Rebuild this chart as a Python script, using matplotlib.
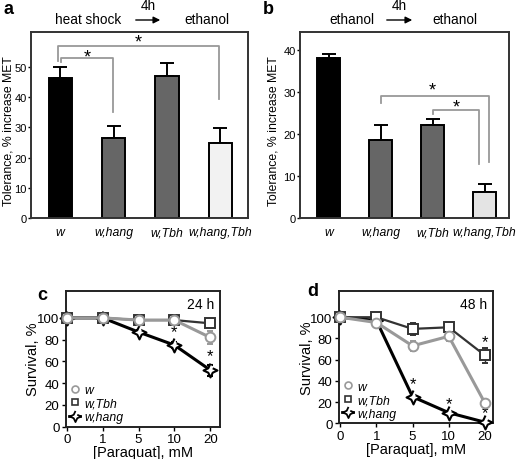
import numpy as np
import matplotlib
matplotlib.use("Agg")
import matplotlib.pyplot as plt
from matplotlib.lines import Line2D

plt.rcParams['font.family'] = ['Liberation Sans', 'DejaVu Sans']

# ---- data, panels a and b (bars) ----
genotypes = ['w', 'w,hang', 'w,Tbh', 'w,hang,Tbh']
tol_a = [46.3, 26.5, 46.9, 24.8]
err_a = [3.7, 4.1, 4.4, 5.0]
tol_b = [38.2, 18.6, 22.1, 6.3]
err_b = [0.9, 3.5, 1.5, 1.9]
bar_colors_a = ['#000000', '#666666', '#666666', '#f2f2f2']
bar_colors_b = ['#000000', '#666666', '#666666', '#e4e4e4']

# ---- data, panels c and d (paraquat survival) ----
paraquat = ['0', '1', '5', '10', '20']
surv_c_w = [100, 100, 98, 98, 82]
surv_c_w_err = [0, 0, 1, 1, 6]
surv_c_tbh = [100, 100, 98, 98, 95]
surv_c_tbh_err = [0, 0, 1, 1, 2]
surv_c_hang = [100, 100, 87, 75, 52]
surv_c_hang_err = [0, 0, 2, 3, 5]

surv_d_w = [100, 95, 73, 82, 19]
surv_d_w_err = [0, 1, 5, 4, 3]
surv_d_tbh = [100, 100, 89, 90.5, 64]
surv_d_tbh_err = [0, 0, 6, 1, 7]
surv_d_hang = [100, 97, 25, 10, 1]
surv_d_hang_err = [0, 0, 2, 2, 1]

W, H = 522, 460
fig = plt.figure(figsize=(W / 100, H / 100), dpi=100)


def px(x0, y0, x1, y1):
    return [x0 / W, 1 - y1 / H, (x1 - x0) / W, (y1 - y0) / H]


def bar_panel(ax, vals, errs, colors, ymax, xlim, label_x):
    x = np.arange(len(vals))
    ax.bar(x, vals, width=0.44, color=colors, edgecolor='black', linewidth=1.4, zorder=2)
    ax.errorbar(x, vals, yerr=[np.zeros(len(errs)), errs], fmt='none',
                ecolor='black', elinewidth=1.4, capsize=5, capthick=1.4, zorder=1)
    ax.set_xlim(*xlim)
    ax.set_ylim(0, ymax)
    ax.set_xticks(x)
    ax.set_xticklabels(genotypes, fontstyle='italic', fontsize=8.8)
    ax.tick_params(axis='x', length=0, pad=6)
    ax.tick_params(axis='y', direction='out', length=2.5, width=1, labelsize=8, pad=0.5)
    for s in ax.spines.values():
        s.set_linewidth(1.4)
        s.set_color('#333333')
    ax.set_ylabel('Tolerance, % increase MET', fontsize=8.8)
    ax.yaxis.set_label_coords(label_x, 0.47)


def bracket(ax, x0, x1, ytop, y0, y1, sx, sy):
    ax.plot([x0, x0, x1, x1], [y0, ytop, ytop, y1], color='#999999', lw=1.3,
            clip_on=False, zorder=3)
    ax.text(sx, sy, '*', ha='center', va='center', fontsize=13)


# panel a
ax_a = fig.add_axes(px(31, 33, 248, 219))
bar_panel(ax_a, tol_a, err_a, bar_colors_a, 61.6, (-0.55, 3.52), -0.077)
ax_a.set_yticks([0, 10, 20, 30, 40, 50])
bracket(ax_a, -0.05, 2.98, 56.8, 52, 39.4, 1.47, 58.3)
bracket(ax_a, 0.02, 0.98, 52.9, 51.6, 35, 0.5, 53.4)

# panel b
ax_b = fig.add_axes(px(300, 33, 509, 219))
bar_panel(ax_b, tol_b, err_b, bar_colors_b, 44.3, (-0.55, 3.47), -0.1)
ax_b.set_yticks([0, 10, 20, 30, 40])
bracket(ax_b, 1.0, 3.08, 29.1, 27.4, 13.4, 2.0, 30.4)
bracket(ax_b, 2.0, 2.9, 25.7, 24.8, 12.9, 2.46, 26.5)

# headers above a and b
def header(xl, xa0, xa1, xr, left, right):
    fig.text(xl / W, 1 - 20 / H, left, ha='center', va='center', fontsize=9.8)
    fig.text(xr / W, 1 - 20 / H, right, ha='center', va='center', fontsize=9.8)
    fig.text((xa0 + xa1) / 2 / W, 1 - 6 / H, '4h', ha='center', va='center', fontsize=9.8)
    fig.add_artist(matplotlib.patches.FancyArrowPatch(
        (xa0 / W, 1 - 21 / H), (xa1 / W, 1 - 21 / H), transform=fig.transFigure,
        arrowstyle='-|>,head_length=4,head_width=2', color='black', lw=1))

header(88, 133, 163, 207, 'heat shock', 'ethanol')
header(352, 384, 415, 455, 'ethanol', 'ethanol')

fig.text(4 / W, 1 - 9 / H, 'a', fontsize=13, fontweight='bold', va='center')
fig.text(263 / W, 1 - 9 / H, 'b', fontsize=13, fontweight='bold', va='center')

# star marker for w,hang
ang = np.linspace(0, 2 * np.pi, 9)[:-1] + np.pi / 2
rad = np.where(np.arange(8) % 2 == 0, 1.0, 0.45)
star = np.column_stack([rad * np.cos(ang), rad * np.sin(ang)])


def line_panel(ax, w, we, tbh, tbhe, hang, hange, xlim, label, stars, label_x):
    x = np.arange(len(paraquat))
    ax.errorbar(x, hang, yerr=hange, color='black', lw=2.2, marker=star, ms=10,
                mfc='white', mec='black', mew=1.5, capsize=2.5, elinewidth=1,
                clip_on=False, zorder=3)
    ax.errorbar(x, tbh, yerr=tbhe, color='#333333', lw=1.6, marker='s', ms=7,
                mfc='white', mec='#333333', mew=1.4, capsize=2.5, elinewidth=1,
                clip_on=False, zorder=4)
    ax.errorbar(x, w, yerr=we, color='#999999', lw=2.2, marker='o', ms=7,
                mfc='white', mec='#999999', mew=1.4, capsize=2.5, elinewidth=1,
                ecolor='#999999', clip_on=False, zorder=5)
    ax.set_xlim(*xlim)
    ax.set_ylim(0, 125)
    ax.set_xticks(x)
    ax.set_xticklabels(paraquat)
    ax.set_yticks([0, 20, 40, 60, 80, 100])
    ax.tick_params(direction='out', length=3, width=1, labelsize=9.5, pad=1.5)
    for s in ax.spines.values():
        s.set_linewidth(1.4)
        s.set_color('#222222')
    ax.set_ylabel('Survival, %', fontsize=10.5)
    ax.yaxis.set_label_coords(label_x, 0.5)
    ax.set_xlabel('[Paraquat], mM', fontsize=10.5, labelpad=0)
    ax.text(0.96, 0.9, label, transform=ax.transAxes, ha='right', va='center', fontsize=10)
    for sx, sy in stars:
        ax.text(sx, sy, '*', ha='center', va='center', fontsize=12)
    handles = [
        Line2D([], [], ls='none', marker='o', ms=5, mfc='white', mec='#999999', mew=1.2),
        Line2D([], [], ls='none', marker='s', ms=5, mfc='white', mec='#333333', mew=1.2),
        Line2D([], [], color='black', lw=2, marker=star, ms=8, mfc='white', mec='black', mew=1.3),
    ]
    leg = ax.legend(handles, ['w', 'w,Tbh', 'w,hang'], loc='lower left', frameon=False,
                    fontsize=8.8, handlelength=0.9, handletextpad=0.3, labelspacing=0.12,
                    borderaxespad=0.1, borderpad=0.2)
    for t in leg.get_texts():
        t.set_fontstyle('italic')


ax_c = fig.add_axes(px(65.7, 291.7, 220, 427.7))
line_panel(ax_c, surv_c_w, surv_c_w_err, surv_c_tbh, surv_c_tbh_err,
           surv_c_hang, surv_c_hang_err, (-0.03, 4.27), '24 h',
           [(3, 87), (4, 65)], -0.165)

ax_d = fig.add_axes(px(338.7, 291.7, 493.3, 424.3))
line_panel(ax_d, surv_d_w, surv_d_w_err, surv_d_tbh, surv_d_tbh_err,
           surv_d_hang, surv_d_hang_err, (-0.04, 4.23), '48 h',
           [(2, 37), (3, 19), (4, 77), (4, 10)], -0.16)

fig.text(37 / W, 1 - 296 / H, 'c', fontsize=13, fontweight='bold', va='center')
fig.text(307 / W, 1 - 292 / H, 'd', fontsize=13, fontweight='bold', va='center')

fig.savefig('out.png', dpi=100)
